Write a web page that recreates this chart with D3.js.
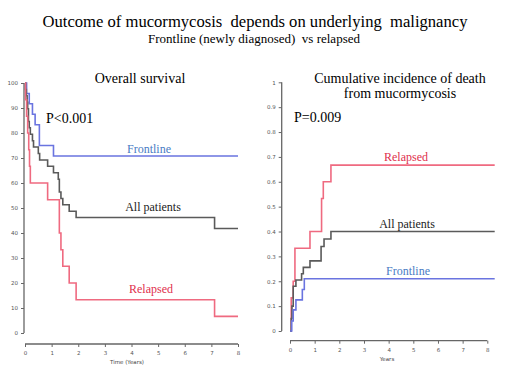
<!DOCTYPE html>
<html>
<head>
<meta charset="utf-8">
<script src="https://cdn.jsdelivr.net/npm/d3@7"></script>
<style>
  body { margin: 0; background: #fff; }
</style>
</head>
<body>
<div id="chart"></div>
<script>
// data
var years = [0, 1, 2, 3, 4, 5, 6, 7, 8];
var osTicks = [0, 10, 20, 30, 40, 50, 60, 70, 80, 90, 100];
var ciTicks = [0, 0.1, 0.2, 0.3, 0.4, 0.5, 0.6, 0.7, 0.8, 0.9, 1];

// overall survival (%), [time, value]
var osFrontline = [[0,100],[0.06,95.8],[0.16,91.7],[0.28,87.5],[0.38,83.3],[0.54,75],[1.07,70.8],[8,70.8]];
var osAll = [[0,100],[0.02,97.4],[0.05,94.9],[0.08,92.3],[0.1,89.7],[0.13,84.6],[0.16,82.1],[0.2,79.5],
  [0.28,76.9],[0.32,74.4],[0.5,71.8],[0.55,69.2],[0.85,66.7],[1.07,64.1],[1.25,61.5],[1.29,56.4],
  [1.35,53.8],[1.42,51.3],[1.66,48.7],[1.92,46.2],[7.12,41.8],[8,41.8]];
var osRelapsed = [[0,100],[0.02,93.3],[0.06,86.7],[0.1,80],[0.14,73.3],[0.17,66.7],[0.2,60],[0.85,53.3],
  [1.29,40],[1.35,33.3],[1.42,26.7],[1.66,20],[1.92,13.3],[7.12,6.67],[8,6.67]];

// cumulative incidence of death from mucormycosis
var ciRelapsed = [[0,0],[0.05,0.133],[0.13,0.2],[0.2,0.333],[0.81,0.4],[1.28,0.533],[1.35,0.6],[1.66,0.667],[8.3,0.667]];
var ciAll = [[0,0],[0.05,0.05],[0.08,0.1],[0.13,0.18],[0.24,0.205],[0.47,0.23],[0.54,0.256],[0.81,0.282],
  [1.26,0.34],[1.38,0.37],[1.66,0.4],[8.3,0.4]];
var ciFrontline = [[0,0],[0.07,0.04],[0.13,0.085],[0.24,0.125],[0.5,0.167],[0.58,0.21],[8.3,0.21]];

var blue = "#6a74e0", red = "#ef6a80", grey = "#5a5a5a",
  axisCol = "#666",
  serif = "Liberation Serif", sans = "DejaVu Sans";

var svg = d3.select("#chart").append("svg")
  .attr("width", 520).attr("height", 375);

function label(parent, x, y, size, txt) {
  return parent.append("text").attr("x", x).attr("y", y).attr("text-anchor", "middle")
    .attr("font-family", serif).attr("font-size", size).attr("xml:space", "preserve").text(txt);
}

label(svg, 255, 27, 16.6, "Outcome of mucormycosis  depends on underlying  malignancy");
label(svg, 254, 43, 13, "Frontline (newly diagnosed)  vs relapsed");

function panel(o) {
  var x = d3.scaleLinear().domain([0, 8]).range(o.xr),
    y = d3.scaleLinear().domain(o.yd).range(o.yr);
  var g = svg.append("g");

  var ax = g.append("g").attr("transform", "translate(0," + o.xAxisY + ")")
    .call(d3.axisBottom(x).tickValues(years).tickSize(3).tickFormat(d3.format("d")));
  var ay = g.append("g").attr("transform", "translate(" + o.yAxisX + ",0)")
    .call(d3.axisLeft(y).tickValues(o.yt).tickSize(3).tickFormat(o.fmt));
  [ax, ay].forEach(function(a) {
    a.attr("font-family", sans);
    a.select(".domain").attr("stroke", axisCol).attr("stroke-width", 1.3)
      .attr("d", a === ax ? "M" + o.xr[0] + ",0H" + o.xr[1] : "M0," + o.yr[0] + "V" + o.yr[1]);
    a.selectAll(".tick line").attr("stroke", axisCol);
    a.selectAll(".tick text").attr("fill", "#555").attr("font-size", 5.5);
  });
  ax.selectAll(".tick text").attr("dy", "0.9em");

  g.append("text").attr("x", o.xlabX).attr("y", o.xAxisY + 20).attr("text-anchor", "middle")
    .attr("fill", "#444").attr("font-size", 5.5).attr("font-family", sans)
    .text(o.xlab);

  var line = d3.line().x(function(d) { return x(d[0]); }).y(function(d) { return y(d[1]); })
    .curve(d3.curveStepAfter);
  o.series.forEach(function(s) {
    g.append("path").datum(s.data).attr("d", line).attr("fill", "none")
      .attr("stroke", s.col).attr("stroke-width", 1.6);
    label(g, s.lx, s.ly, 12, s.name).attr("fill", s.tcol);
  });

  o.title.forEach(function(t, i) {
    label(g, o.titleX, 83 + i * 15, 14, t);
  });
  label(g, o.pX, o.pY, 14, o.p).attr("text-anchor", "start");
}

panel({
  xr: [25, 238], yd: [0, 100], yr: [333, 83], xAxisY: 344, yAxisX: 24,
  yt: osTicks, fmt: d3.format("d"), xlab: "Time (Years)", xlabX: 127,
  title: ["Overall survival"], titleX: 140, p: "P<0.001", pX: 46, pY: 123,
  series: [
    {name: "Frontline", data: osFrontline, col: blue, tcol: "#4a7cc4", lx: 149, ly: 153},
    {name: "All patients", data: osAll, col: grey, tcol: "#222", lx: 153, ly: 211},
    {name: "Relapsed", data: osRelapsed, col: red, tcol: "#e0304c", lx: 151, ly: 293}
  ]
});

panel({
  xr: [290, 487.3], yd: [0, 1], yr: [331, 82.3], xAxisY: 340.7, yAxisX: 281.7,
  yt: ciTicks, fmt: function(d) { return d === 0 || d === 1 ? d3.format("d")(d) : d3.format(".1f")(d); },
  xlab: "Years", xlabX: 387,
  title: ["Cumulative incidence of death", "from mucormycosis"], titleX: 400,
  p: "P=0.009", pX: 294, pY: 122,
  series: [
    {name: "Relapsed", data: ciRelapsed, col: red, tcol: "#e0304c", lx: 406, ly: 161},
    {name: "All patients", data: ciAll, col: grey, tcol: "#222", lx: 407, ly: 228},
    {name: "Frontline", data: ciFrontline, col: blue, tcol: "#4a7cc4", lx: 408, ly: 275}
  ]
});
</script>
</body>
</html>
